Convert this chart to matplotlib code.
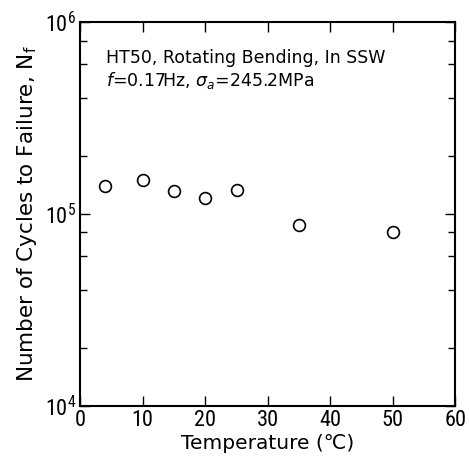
import matplotlib
matplotlib.use("Agg")
import matplotlib.pyplot as plt
from matplotlib.ticker import LogLocator, FixedLocator, NullFormatter

plt.rcParams.update({"font.family": ["DejaVu Sans"],
                     "mathtext.fontset": "dejavusans"})

temperature = [4, 10, 15, 20, 25, 35, 50]
cycles = [1.39e5, 1.50e5, 1.32e5, 1.21e5, 1.33e5, 0.88e5, 0.805e5]
x_ticks = [0, 10, 20, 30, 40, 50, 60]
y_ticks = [1e4, 1e5, 1e6]
y_ticklabels = [r"$\mathregular{10^4}$", r"$\mathregular{10^5}$", r"$\mathregular{10^6}$"]

fig = plt.figure(figsize=(4.69, 4.66), dpi=100)
ax = fig.add_axes([0.171, 0.129, 0.80, 0.824])

ax.plot(temperature, cycles, "o", ms=8.5, mfc="white", mec="black", mew=1.2)

ax.set_yscale("log")
ax.set_xlim(0, 60)
ax.set_ylim(1e4, 1e6)
ax.xaxis.set_major_locator(FixedLocator(x_ticks))
ax.yaxis.set_major_locator(FixedLocator(y_ticks))
ax.yaxis.set_minor_locator(LogLocator(base=10, subs=(2, 4, 6, 8)))
ax.yaxis.set_minor_formatter(NullFormatter())
ax.set_yticklabels(y_ticklabels)

for s in ax.spines.values():
    s.set_linewidth(1.5)
ax.tick_params(which="both", direction="in", top=True, right=True, width=1.0)
ax.tick_params(which="major", length=7, pad=3)
ax.tick_params(which="minor", length=5)
for lab in ax.get_xticklabels() + ax.get_yticklabels():
    lab.set_family("Roboto Condensed")
    lab.set_fontsize(16)

ax.set_xlabel("Temperature (℃)", fontsize=14.5, labelpad=2)
ax.set_ylabel(r"Number of Cycles to Failure, N$\mathregular{_f}$", fontsize=15.5, labelpad=4)

ax.text(0.07, 0.905, "HT50, Rotating Bending, In SSW", transform=ax.transAxes,
        fontsize=12.5, va="center")
ax.text(0.07, 0.848, r"$f$=0.17Hz, $\sigma_a$=245.2MPa", transform=ax.transAxes,
        fontsize=12.5, va="center")

fig.savefig("out.png", dpi=100)
